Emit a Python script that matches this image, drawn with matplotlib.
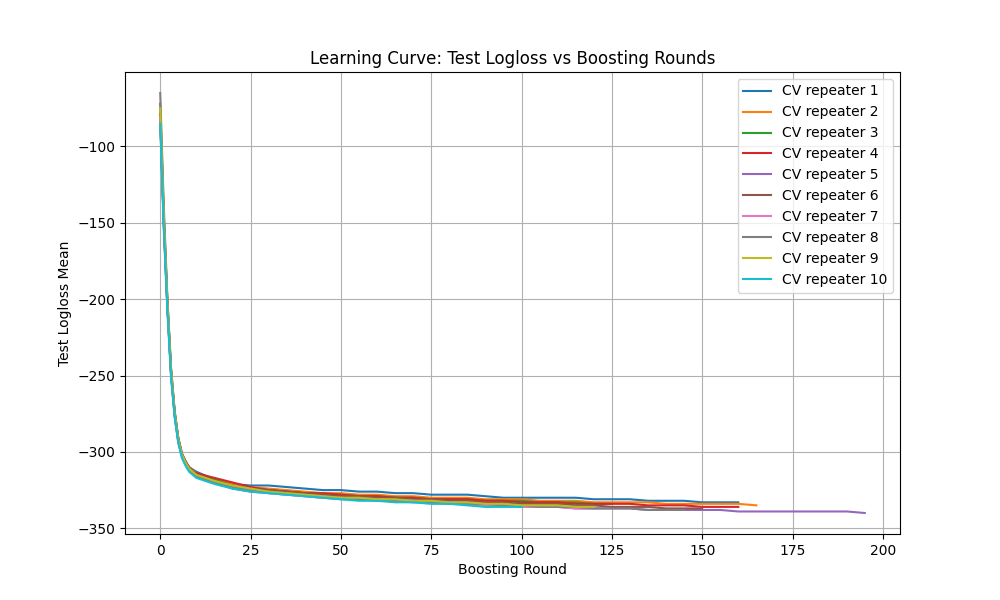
import matplotlib
matplotlib.use('Agg')
import matplotlib.pyplot as plt

head_rounds = [0, 1, 2, 3, 4, 5, 6, 7, 8, 10]
tail_step = 5

# head values (rounds 0..10) per repeater
heads = {
    1: [-80, -150, -205, -248, -275, -292, -302, -307, -310, -313],
    2: [-78, -148, -203, -247, -274, -291, -301, -306, -310, -314],
    3: [-82, -152, -206, -249, -276, -293, -302, -307, -311, -315],
    4: [-79, -149, -204, -248, -275, -292, -302, -307, -311, -314],
    5: [-83, -153, -207, -250, -277, -294, -303, -308, -312, -316],
    6: [-72, -146, -202, -246, -274, -291, -301, -306, -310, -315],
    7: [-81, -151, -205, -249, -276, -293, -302, -308, -312, -316],
    8: [-65, -140, -200, -245, -273, -291, -301, -307, -311, -316],
    9: [-75, -147, -203, -247, -275, -292, -302, -307, -311, -315],
    10: [-85, -155, -208, -251, -277, -294, -304, -309, -313, -317],
}

# tail values every 5 rounds starting at round 15
tails = {
    1: [-318, -321, -322, -322, -323, -324, -325, -325, -326, -326, -327, -327, -328, -328, -328, -329,
        -330, -330, -330, -330, -330, -331, -331, -331, -332, -332, -332, -333, -333, -333],
    2: [-318, -321, -323, -324, -325, -326, -327, -327, -328, -328, -329, -329, -330, -330, -330, -331,
        -331, -331, -332, -332, -332, -333, -333, -333, -333, -334, -334, -334, -334, -334, -335],
    3: [-318, -322, -324, -325, -326, -327, -328, -328, -329, -329, -330, -330, -331, -331, -331, -332,
        -332, -332, -333, -333, -333, -334, -334],
    4: [-317, -320, -323, -325, -326, -327, -327, -328, -329, -329, -330, -330, -331, -331, -331, -332,
        -332, -333, -333, -333, -334, -334, -334, -334, -335, -335, -335, -336, -336, -336],
    5: [-320, -324, -326, -327, -328, -329, -330, -331, -331, -332, -332, -333, -333, -334, -334, -335,
        -335, -336, -336, -336, -337, -337, -337, -337, -338, -338, -338, -338, -338, -339, -339, -339,
        -339, -339, -339, -339, -340],
    6: [-319, -322, -324, -325, -326, -327, -328, -329, -329, -330, -330, -331, -331, -332, -332, -333,
        -333, -334, -334, -334, -335, -335, -336, -336, -336, -337, -337, -337],
    7: [-320, -323, -325, -327, -328, -329, -330, -330, -331, -331, -332, -332, -333, -334, -334, -335,
        -335, -336, -336, -336, -337, -337],
    8: [-320, -323, -325, -326, -327, -328, -329, -330, -331, -331, -332, -332, -333, -333, -334, -334,
        -335, -335, -336, -336, -336, -337, -337, -337, -338, -338, -338],
    9: [-319, -322, -324, -326, -327, -328, -329, -330, -330, -331, -331, -332, -332, -333, -333, -334,
        -334, -335, -335, -335, -336, -336],
    10: [-321, -324, -326, -327, -328, -329, -330, -331, -332, -332, -333, -333, -334, -334, -335, -336,
         -336, -336],
}

fig, ax = plt.subplots(figsize=(10, 6), dpi=100)
for rep in range(1, 11):
    tail = tails[rep]
    rounds = head_rounds + [15 + tail_step * i for i in range(len(tail))]
    ax.plot(rounds, heads[rep] + tail, label=f'CV repeater {rep}')

ax.set_title('Learning Curve: Test Logloss vs Boosting Rounds')
ax.set_xlabel('Boosting Round')
ax.set_ylabel('Test Logloss Mean')
ax.grid(True)
ax.legend(loc='upper right')
fig.savefig('out.png')
